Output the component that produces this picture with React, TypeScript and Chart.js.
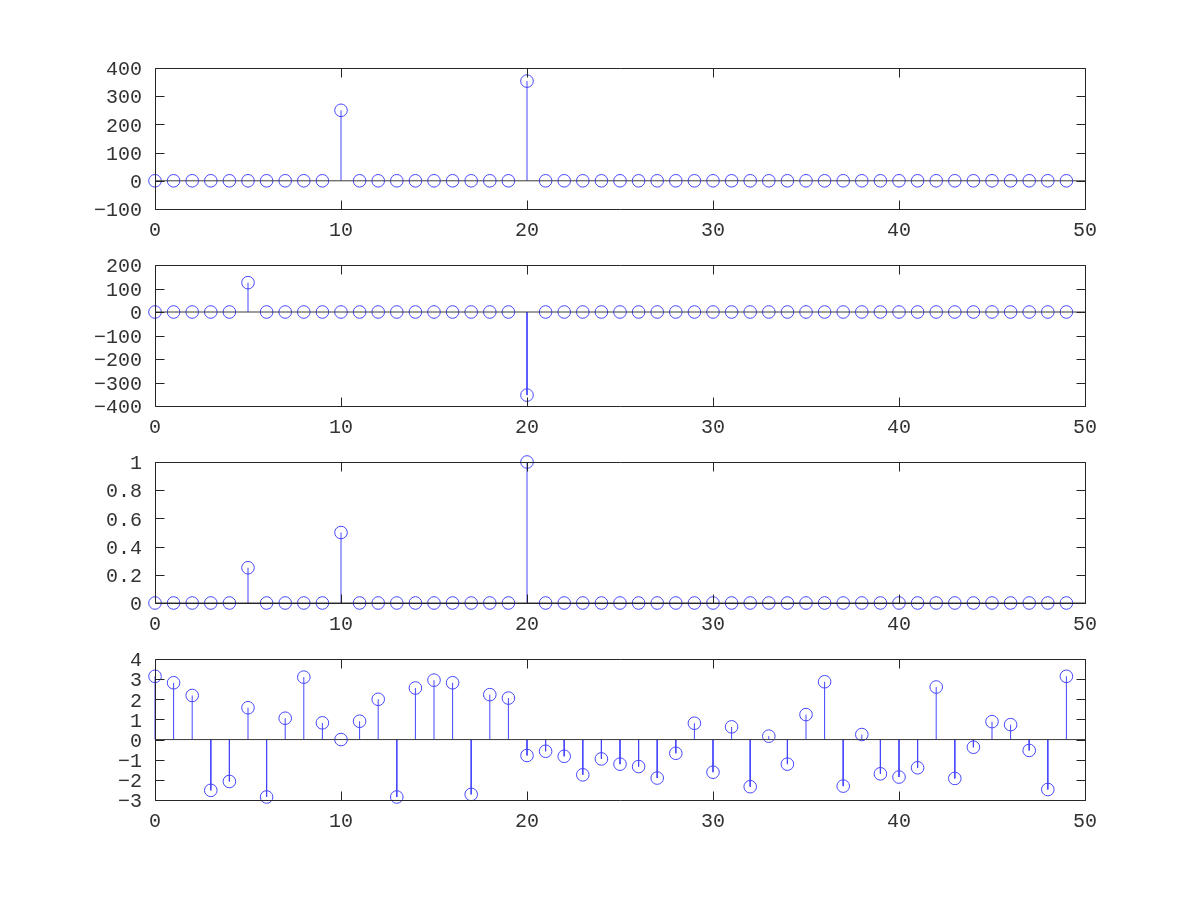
import React, { useEffect, useRef } from "react";
import { Chart, registerables } from "chart.js";

Chart.register(...registerables);

// ---- data ----
const indices = [
  0, 1, 2, 3, 4, 5, 6, 7, 8, 9,
  10, 11, 12, 13, 14, 15, 16, 17, 18, 19,
  20, 21, 22, 23, 24, 25, 26, 27, 28, 29,
  30, 31, 32, 33, 34, 35, 36, 37, 38, 39,
  40, 41, 42, 43, 44, 45, 46, 47, 48, 49,
];

const seriesA = [
  0, 0, 0, 0, 0, 0, 0, 0, 0, 0,
  250, 0, 0, 0, 0, 0, 0, 0, 0, 0,
  353.55, 0, 0, 0, 0, 0, 0, 0, 0, 0,
  0, 0, 0, 0, 0, 0, 0, 0, 0, 0,
  0, 0, 0, 0, 0, 0, 0, 0, 0, 0,
];

const seriesB = [
  0, 0, 0, 0, 0, 125, 0, 0, 0, 0,
  0, 0, 0, 0, 0, 0, 0, 0, 0, 0,
  -353.55, 0, 0, 0, 0, 0, 0, 0, 0, 0,
  0, 0, 0, 0, 0, 0, 0, 0, 0, 0,
  0, 0, 0, 0, 0, 0, 0, 0, 0, 0,
];

const seriesC = [
  0, 0, 0, 0, 0, 0.25, 0, 0, 0, 0,
  0.5, 0, 0, 0, 0, 0, 0, 0, 0, 0,
  1, 0, 0, 0, 0, 0, 0, 0, 0, 0,
  0, 0, 0, 0, 0, 0, 0, 0, 0, 0,
  0, 0, 0, 0, 0, 0, 0, 0, 0, 0,
];

const seriesD = [
  3.14, 2.82, 2.19, -2.52, -2.08, 1.58, -2.85, 1.06, 3.1, 0.83,
  0, 0.91, 2.0, -2.85, 2.56, 2.95, 2.82, -2.72, 2.23, 2.06,
  -0.79, -0.58, -0.83, -1.75, -0.96, -1.22, -1.34, -1.91, -0.68, 0.81,
  -1.62, 0.63, -2.34, 0.17, -1.22, 1.24, 2.87, -2.31, 0.25, -1.7,
  -1.86, -1.4, 2.61, -1.93, -0.38, 0.89, 0.74, -0.54, -2.48, 3.14,
];

const xRange = [0, 50];
const xStep = 10;

const yRangeA = [-100, 400];
const yRangeB = [-400, 200];
const yRangeC = [0, 1];
const yRangeD = [-3, 4];
const yStepA = 100;
const yStepB = 100;
const yStepC = 0.2;
const yStepD = 1;

// ---- layout / style ----
const PLOT_LEFT = 155;
const PLOT_RIGHT = 1085;
const PLOT_H = 141;
const PAD_TOP = 20;
const X_AXIS_H = 40;
const PANEL_TOPS = [68, 265, 462, 659];

const BLUE = "rgb(70,70,255)";
const FRAME = "#262626";
const TEXT = "#333333";
const BASE = "#3a3a3a";
const FONT = "'Liberation Mono', 'DejaVu Sans Mono', monospace";

const fmt = (v: number) => {
  const r = Math.round(v * 1000) / 1000;
  return String(r).replace("-", "\u2212");
};

const framePlugin = {
  id: "octaveFrame",
  afterDraw(chart: any) {
    const { ctx, chartArea } = chart;
    const l = Math.round(chartArea.left) + 0.5;
    const r = Math.round(chartArea.right) + 0.5;
    const t = Math.round(chartArea.top) + 0.5;
    const b = Math.round(chartArea.bottom) + 0.5;
    const TL = 9;
    ctx.save();
    ctx.strokeStyle = FRAME;
    ctx.lineWidth = 1;
    ctx.beginPath();
    ctx.rect(l, t, r - l, b - t);
    const xs = chart.scales.x;
    xs.ticks.forEach((tk: any) => {
      const px = Math.round(xs.getPixelForValue(tk.value)) + 0.5;
      ctx.moveTo(px, b);
      ctx.lineTo(px, b - TL);
      ctx.moveTo(px, t);
      ctx.lineTo(px, t + TL);
    });
    const ys = chart.scales.y;
    ys.ticks.forEach((tk: any) => {
      const py = Math.round(ys.getPixelForValue(tk.value)) + 0.5;
      ctx.moveTo(l, py);
      ctx.lineTo(l + TL, py);
      ctx.moveTo(r, py);
      ctx.lineTo(r - TL, py);
    });
    ctx.stroke();
    ctx.restore();
  },
};

function StemPanel({
  top,
  values,
  yRange,
  yStep,
}: {
  top: number;
  values: number[];
  yRange: number[];
  yStep: number;
}) {
  const ref = useRef<HTMLCanvasElement | null>(null);
  useEffect(() => {
    if (!ref.current) return;
    const stems: any[] = [];
    indices.forEach((x, i) => {
      stems.push({ x, y: 0 });
      stems.push({ x, y: values[i] });
      stems.push({ x, y: null });
    });
    const markers = indices.map((x, i) => ({ x, y: values[i] }));
    const baseline = [
      { x: xRange[0], y: 0 },
      { x: xRange[1], y: 0 },
    ];
    const chart = new Chart(ref.current, {
      type: "scatter",
      data: {
        datasets: [
          {
            data: baseline,
            showLine: true,
            borderColor: BASE,
            borderWidth: 1,
            pointRadius: 0,
            clip: false,
          } as any,
          {
            data: stems,
            showLine: true,
            spanGaps: false,
            borderColor: BLUE,
            borderWidth: 1,
            pointRadius: 0,
            clip: false,
          } as any,
          {
            data: markers,
            showLine: false,
            pointStyle: "circle",
            pointRadius: 6.3,
            borderColor: BLUE,
            backgroundColor: "rgba(0,0,0,0)",
            pointBorderWidth: 1,
            clip: false,
          } as any,
        ],
      },
      options: {
        animation: false,
        responsive: false,
        devicePixelRatio: 1,
        events: [],
        layout: {
          padding: { top: PAD_TOP, right: 1200 - PLOT_RIGHT, bottom: 0, left: 0 },
        },
        plugins: {
          legend: { display: false },
          tooltip: { enabled: false },
        },
        scales: {
          x: {
            type: "linear",
            min: xRange[0],
            max: xRange[1],
            grid: { display: false, drawTicks: false },
            border: { display: false },
            ticks: {
              stepSize: xStep,
              padding: 10,
              autoSkip: false,
              color: TEXT,
              font: { family: FONT, size: 20 },
              maxRotation: 0,
              callback: (v: any) => fmt(Number(v)),
            },
            afterFit: (s: any) => {
              s.height = X_AXIS_H;
              s.paddingLeft = 0;
              s.paddingRight = 0;
            },
          },
          y: {
            type: "linear",
            min: yRange[0],
            max: yRange[1],
            grid: { display: false, drawTicks: false },
            border: { display: false },
            ticks: {
              stepSize: yStep,
              padding: 13,
              autoSkip: false,
              labelOffset: 2,
              color: TEXT,
              font: { family: FONT, size: 20 },
              callback: (v: any) => fmt(Number(v)),
            },
            afterFit: (s: any) => {
              s.width = PLOT_LEFT;
              s.paddingTop = 0;
              s.paddingBottom = 0;
            },
          },
        },
      },
      plugins: [framePlugin],
    });
    return () => chart.destroy();
  }, [values, yRange, yStep]);

  return (
    <canvas
      ref={ref}
      width={1200}
      height={PAD_TOP + PLOT_H + X_AXIS_H}
      style={{
        position: "absolute",
        left: 0,
        top: top - PAD_TOP,
        width: 1200,
        height: PAD_TOP + PLOT_H + X_AXIS_H,
      }}
    />
  );
}

export default function App() {
  return (
    <div
      style={{
        position: "fixed",
        left: 0,
        top: 0,
        width: 1200,
        height: 900,
        background: "#ffffff",
      }}
    >
      <StemPanel top={PANEL_TOPS[0]} values={seriesA} yRange={yRangeA} yStep={yStepA} />
      <StemPanel top={PANEL_TOPS[1]} values={seriesB} yRange={yRangeB} yStep={yStepB} />
      <StemPanel top={PANEL_TOPS[2]} values={seriesC} yRange={yRangeC} yStep={yStepC} />
      <StemPanel top={PANEL_TOPS[3]} values={seriesD} yRange={yRangeD} yStep={yStepD} />
    </div>
  );
}
